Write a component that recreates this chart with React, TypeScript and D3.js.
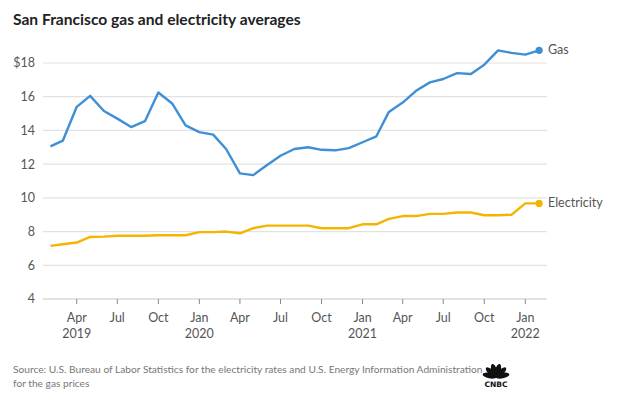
import React from "react";
import * as d3 from "d3";

const months: string[] = [
  "2019-02","2019-03","2019-04","2019-05","2019-06","2019-07","2019-08","2019-09","2019-10","2019-11","2019-12",
  "2020-01","2020-02","2020-03","2020-04","2020-05","2020-06","2020-07","2020-08","2020-09","2020-10","2020-11","2020-12",
  "2021-01","2021-02","2021-03","2021-04","2021-05","2021-06","2021-07","2021-08","2021-09","2021-10","2021-11","2021-12",
  "2022-01","2022-02",
];

const gasValues: number[] = [
  13.05, 13.4, 15.4, 16.05, 15.15, 14.7, 14.2, 14.55, 16.25, 15.6, 14.3,
  13.9, 13.75, 12.9, 11.45, 11.35, 11.95, 12.5, 12.9, 13.0, 12.85, 12.82, 12.95,
  13.3, 13.65, 15.1, 15.65, 16.35, 16.85, 17.05, 17.4, 17.35, 17.9, 18.75, 18.6,
  18.5, 18.75,
];

const electricityValues: number[] = [
  7.15, 7.25, 7.35, 7.68, 7.7, 7.75, 7.75, 7.75, 7.78, 7.78, 7.78,
  7.97, 7.97, 8.0, 7.9, 8.2, 8.35, 8.35, 8.35, 8.35, 8.2, 8.2, 8.2,
  8.43, 8.43, 8.75, 8.92, 8.92, 9.05, 9.05, 9.13, 9.13, 8.97, 8.97, 9.0,
  9.67, 9.67,
];

const yTicks: number[] = [4, 6, 8, 10, 12, 14, 16, 18];
const xTickDates: string[] = [
  "2019-04","2019-07","2019-10","2020-01","2020-04","2020-07","2020-10",
  "2021-01","2021-04","2021-07","2021-10","2022-01",
];
const monthNames: Record<number, string> = { 0: "Jan", 3: "Apr", 6: "Jul", 9: "Oct" };
const yearLabelled: Record<string, string> = {
  "2019-04": "2019", "2020-01": "2020", "2021-01": "2021", "2022-01": "2022",
};

const title = "San Francisco gas and electricity averages";
const sourceLines: string[] = [
  "Source: U.S. Bureau of Labor Statistics for the electricity rates and U.S. Energy Information Administration",
  "for the gas prices",
];

const GAS = "#3f8fd6";
const ELEC = "#f6b400";
const FONT = "Lato, 'Open Sans', sans-serif";

const parse = d3.timeParse("%Y-%m");

export default function App() {
  const x = d3
    .scaleTime()
    .domain([new Date(2019, 0, 1), new Date(2022, 0, 1)])
    .range([36.6, 525.3]);
  const y = d3.scaleLinear().domain([4, 18]).range([299, 63]);
  const gridX0 = 43;
  const gridX1 = 547;

  const dates = months.map((m) => parse(m) as Date);
  const gasData = dates.map((d, i) => ({ d, v: gasValues[i] }));
  const elecData = dates.map((d, i) => ({ d, v: electricityValues[i] }));

  const line = d3
    .line<{ d: Date; v: number }>()
    .x((p) => x(p.d))
    .y((p) => y(p.v));

  const lastGas = gasData[gasData.length - 1];
  const lastElec = elecData[elecData.length - 1];

  // CNBC peacock feathers
  const cx = 496;
  const cy = 377;
  const featherAngles = [-78, -47, -16, 16, 47, 78];

  return (
    <svg
      width={630}
      height={410}
      style={{ position: "absolute", left: 0, top: 0, background: "#fff" }}
      fontFamily={FONT}
    >
      <rect width={630} height={410} fill="#fff" />
      <text x={13} y={25} fontSize={15.6} fontWeight={700} fill="#222">
        {title}
      </text>

      {yTicks.map((t) => (
        <g key={t}>
          <line
            x1={gridX0}
            x2={gridX1}
            y1={y(t)}
            y2={y(t)}
            stroke={t === 4 ? "#c8c8c8" : "#e2e2e2"}
            strokeWidth={1.2}
          />
          <text
            x={35}
            y={y(t)}
            dy="0.35em"
            textAnchor="end"
            fontSize={12.5}
            fill="#555"
          >
            {t === 18 ? "$18" : String(t)}
          </text>
        </g>
      ))}

      {xTickDates.map((m) => {
        const d = parse(m) as Date;
        const xx = x(d);
        return (
          <g key={m}>
            <line x1={xx} x2={xx} y1={299} y2={304} stroke="#888" strokeWidth={1} />
            <text x={xx} y={322} textAnchor="middle" fontSize={12.5} fill="#555">
              {monthNames[d.getMonth()]}
            </text>
            {yearLabelled[m] && (
              <text x={xx} y={338} textAnchor="middle" fontSize={12.5} fill="#555">
                {yearLabelled[m]}
              </text>
            )}
          </g>
        );
      })}

      <path d={line(elecData) || ""} fill="none" stroke={ELEC} strokeWidth={2.4} strokeLinejoin="round" />
      <path d={line(gasData) || ""} fill="none" stroke={GAS} strokeWidth={2.4} strokeLinejoin="round" />
      <circle cx={x(lastGas.d)} cy={y(lastGas.v)} r={3.6} fill={GAS} />
      <circle cx={x(lastElec.d)} cy={y(lastElec.v)} r={3.6} fill={ELEC} />

      <text x={548} y={y(lastGas.v) + 4} fontSize={12.5} fill="#555">
        Gas
      </text>
      <text x={548} y={y(lastElec.v) + 4} fontSize={12.5} fill="#555">
        Electricity
      </text>

      {sourceLines.map((s, i) => (
        <text key={i} x={13} y={373 + i * 14} fontSize={10.2} fill="#777">
          {s}
        </text>
      ))}

      <g>
        {featherAngles.map((a, i) => {
          const r = (a * Math.PI) / 180;
          const len = 12;
          const fx = cx + Math.sin(r) * len * 0.55;
          const fy = cy - Math.cos(r) * len * 0.55;
          return (
            <ellipse
              key={i}
              cx={fx}
              cy={fy}
              rx={2.8}
              ry={7}
              transform={`rotate(${a} ${fx} ${fy})`}
              fill="#111"
            />
          );
        })}
        <text x={cx} y={cy + 10} textAnchor="middle" fontSize={7.5} fontWeight={900} fill="#111" fontFamily="'DejaVu Sans', sans-serif">
          CNBC
        </text>
      </g>
    </svg>
  );
}
